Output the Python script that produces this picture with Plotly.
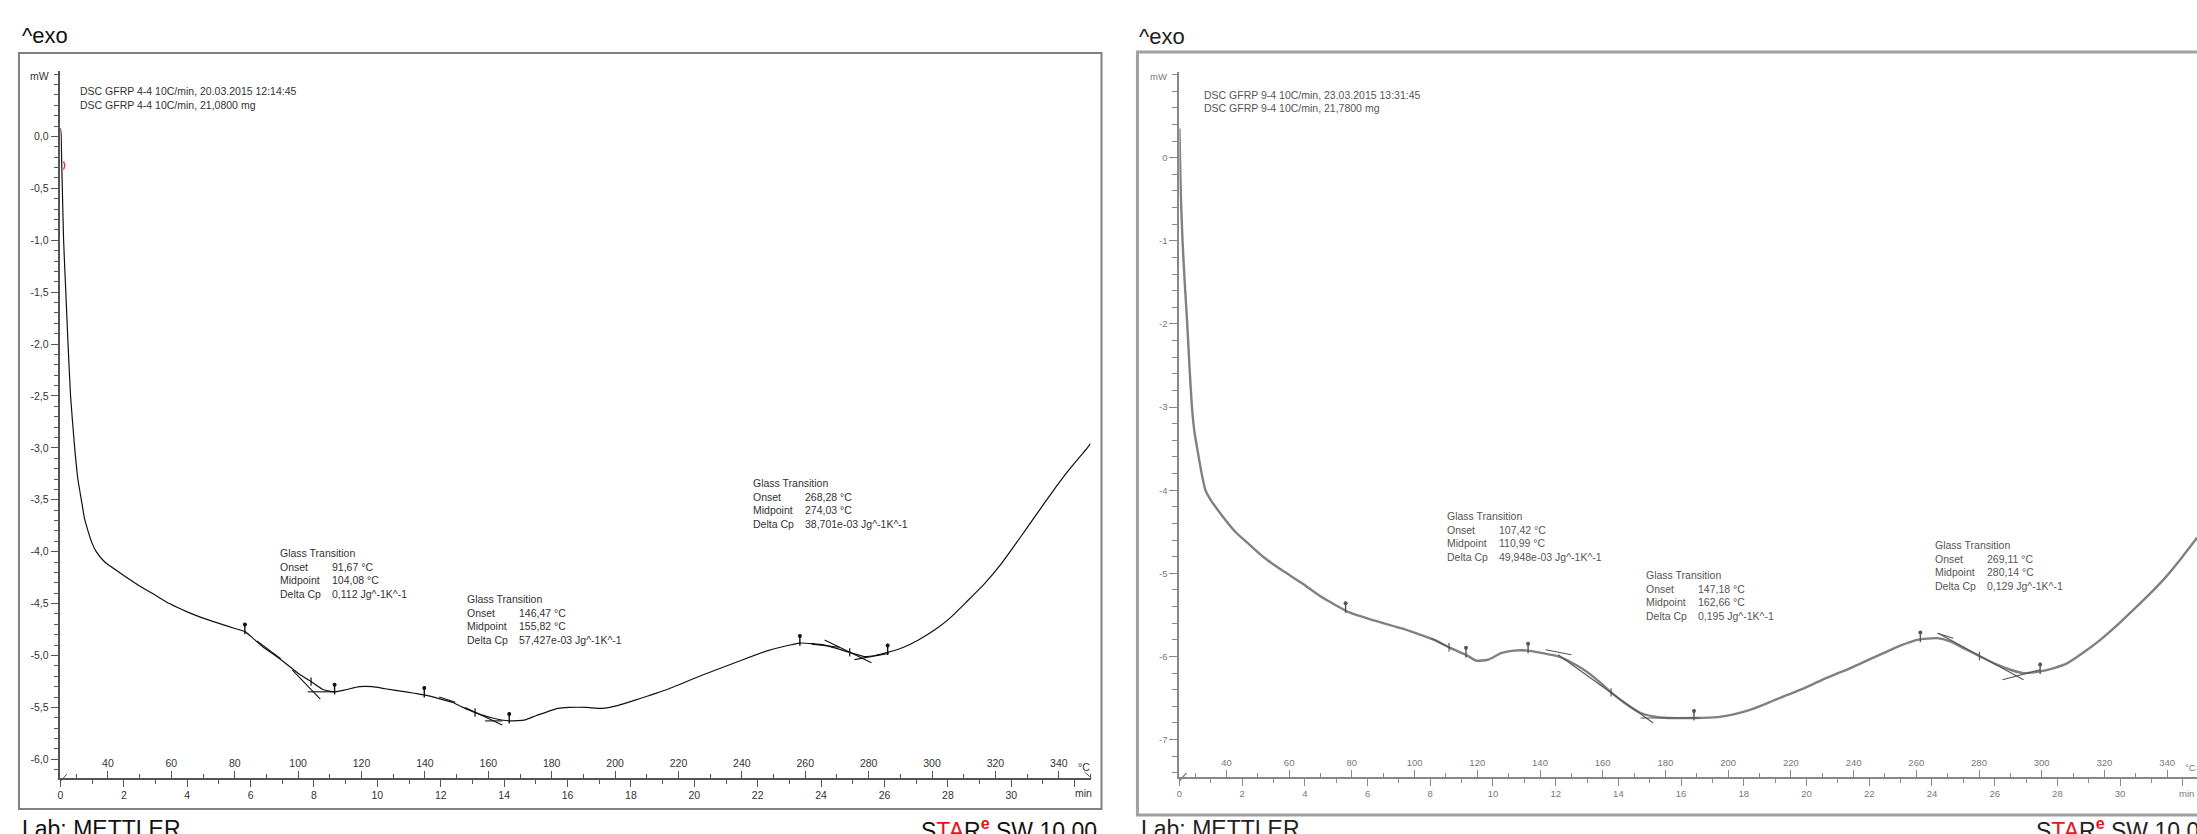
import numpy as np
import plotly.graph_objects as go

W, H = 2197, 834
FONT = "Liberation Sans"


def px(x):
    return x / W


def py(y):
    return 1 - y / H


# ---------------- data ----------------
T_START, HEAT_RATE = 25.0, 10.0  # degC at t=0, degC per min

t_left = [0.00, 0.02, 0.04, 0.06, 0.10, 0.17, 0.24, 0.32, 0.45, 0.55, 0.66, 0.76, 0.87, 1.00,
          1.13, 1.40, 1.86, 2.50, 3.00, 3.44, 4.00, 4.50, 5.00, 5.50, 5.82, 6.06, 6.40, 6.69,
          7.00, 7.50, 7.95, 8.30, 8.65, 9.00, 9.43, 9.85, 10.25, 10.90, 11.48, 12.00, 12.36,
          12.70, 13.09, 13.60, 14.16, 14.66, 15.00, 15.29, 15.70, 16.05, 16.60, 17.09, 17.60,
          18.13, 19.20, 20.24, 21.28, 22.35, 23.33, 24.11, 24.90, 25.37, 25.70, 26.10, 26.60,
          27.07, 27.60, 28.10, 28.60, 29.15, 29.70, 30.22, 30.75, 31.26, 31.80, 32.40, 32.50]
mw_left = [0.08, 0.02, -0.25, -0.50, -1.00, -1.50, -2.00, -2.50, -3.00, -3.30, -3.50, -3.68,
           -3.80, -3.92, -4.00, -4.10, -4.20, -4.33, -4.42, -4.50, -4.58, -4.64, -4.69, -4.74,
           -4.77, -4.83, -4.92, -4.98, -5.05, -5.17, -5.26, -5.33, -5.35, -5.33, -5.30, -5.30,
           -5.32, -5.35, -5.38, -5.42, -5.45, -5.50, -5.55, -5.60, -5.63, -5.62, -5.58, -5.55,
           -5.51, -5.50, -5.50, -5.51, -5.48, -5.43, -5.32, -5.19, -5.07, -4.95, -4.88, -4.90,
           -4.97, -5.01, -5.00, -4.97, -4.92, -4.85, -4.75, -4.63, -4.48, -4.31, -4.11, -3.89,
           -3.66, -3.44, -3.22, -3.00, -2.96]

t_right = [0.00, 0.015, 0.03, 0.05, 0.10, 0.17, 0.25, 0.32, 0.40, 0.48, 0.57, 0.70, 0.83, 1.00,
           1.15, 1.45, 1.78, 2.19, 2.70, 3.30, 3.91, 4.51, 5.42, 6.23, 7.07, 7.54, 8.13, 8.65,
           9.14, 9.46, 9.84, 10.26, 10.67, 11.12, 11.58, 12.08, 12.49, 12.90, 13.35, 13.76,
           14.20, 14.71, 15.11, 15.58, 16.41, 17.16, 17.64, 18.22, 18.95, 19.81, 20.57, 21.40,
           22.45, 22.99, 23.53, 24.17, 24.58, 25.06, 25.54, 26.02, 26.50, 26.92, 27.45, 27.89,
           28.32, 28.84, 29.37, 29.89, 30.42, 30.94, 31.47, 31.97, 32.46]
mw_right = [0.35, 0.10, -0.20, -0.50, -1.00, -1.50, -2.00, -2.50, -3.00, -3.30, -3.50, -3.78,
            -4.00, -4.12, -4.20, -4.35, -4.50, -4.64, -4.81, -4.97, -5.12, -5.28, -5.47, -5.57,
            -5.66, -5.72, -5.80, -5.90, -5.98, -6.05, -6.04, -5.96, -5.93, -5.93, -5.96, -6.00,
            -6.07, -6.16, -6.29, -6.43, -6.56, -6.68, -6.72, -6.74, -6.74, -6.73, -6.70, -6.64,
            -6.53, -6.40, -6.27, -6.14, -5.96, -5.87, -5.80, -5.78, -5.82, -5.91, -6.00, -6.09,
            -6.16, -6.20, -6.18, -6.14, -6.08, -5.95, -5.80, -5.63, -5.44, -5.25, -5.04, -4.81,
            -4.57]

# evaluation tangents (t0, mW0, t1, mW1)
tangents_left = [(6.20, -4.86, 6.95, -5.03), (7.32, -5.14, 8.20, -5.42), (7.80, -5.35, 8.65, -5.35),
                 (11.95, -5.40, 12.46, -5.45), (12.77, -5.50, 13.94, -5.67), (13.40, -5.63, 13.94, -5.63),
                 (23.70, -4.89, 24.58, -4.92), (24.11, -4.85, 25.59, -5.07), (25.05, -5.04, 26.13, -4.98)]
tangents_right = [(8.03, -5.78, 8.66, -5.90),
                  (11.68, -5.92, 12.50, -5.98), (12.08, -5.98, 15.11, -6.80), (14.71, -6.74, 16.60, -6.74),
                  (24.17, -5.72, 24.68, -5.78), (24.20, -5.72, 26.92, -6.28), (26.25, -6.28, 27.45, -6.16)]

# evaluation limits (pins) in min
pins_left = [5.82, 8.65, 11.48, 14.16, 23.33, 26.10]
pins_right = [5.30, 9.14, 11.12, 16.41, 23.63, 27.45]

# glass transition results: onset, midpoint (degC), delta cp
tg_left = [("91,67", 91.67, "104,08", 104.08, "0,112 Jg^-1K^-1"),
           ("146,47", 146.47, "155,82", 155.82, "57,427e-03 Jg^-1K^-1"),
           ("268,28", 268.28, "274,03", 274.03, "38,701e-03 Jg^-1K^-1")]
tg_right = [("107,42", 107.42, "110,99", 110.99, "49,948e-03 Jg^-1K^-1"),
            ("147,18", 147.18, "162,66", 162.66, "0,195 Jg^-1K^-1"),
            ("269,11", 269.11, "280,14", 280.14, "0,129 Jg^-1K^-1")]

header_left = ["DSC GFRP 4-4 10C/min, 20.03.2015 12:14:45", "DSC GFRP 4-4 10C/min, 21,0800 mg"]
header_right = ["DSC GFRP 9-4 10C/min, 23.03.2015 13:31:45", "DSC GFRP 9-4 10C/min, 21,7800 mg"]

yticks_left = [0.0, -0.5, -1.0, -1.5, -2.0, -2.5, -3.0, -3.5, -4.0, -4.5, -5.0, -5.5, -6.0]
yticks_right = [0, -1, -2, -3, -4, -5, -6, -7]
min_ticks = list(range(0, 33, 2))
degc_ticks = list(range(40, 341, 20))

# ---------------- layout geometry (pixels) ----------------
L = dict(x0=57.5, x1=1089, ytop=70.5, ybot=778, tmax=32.5, yr=(-6.18, 0.635))
R = dict(x0=1178, x1=W, ytop=72, ybot=777, yr=(-7.45, 1.03))
R["tmax"] = (R["x1"] - R["x0"]) / 31.4

pxmw_L = (L["ybot"] - L["ytop"]) / (L["yr"][1] - L["yr"][0])
pxmw_R = (R["ybot"] - R["ytop"]) / (R["yr"][1] - R["yr"][0])

fig = go.Figure()


def seg_xy(segs):
    xs, ys = [], []
    for a, b, c, d in segs:
        xs += [a, c, None]
        ys += [b, d, None]
    return xs, ys


def add_panel(tc, yc, tans, pins, tgs, xa, ya, lcolor, lwidth, mcolor, pxmw):
    fig.add_trace(go.Scatter(x=tc, y=yc, mode="lines", xaxis=xa, yaxis=ya,
                             line=dict(color=lcolor, width=lwidth, shape="spline", smoothing=0.5),
                             hoverinfo="skip", showlegend=False))
    sx, sy = seg_xy(tans)
    fig.add_trace(go.Scatter(x=sx, y=sy, mode="lines", xaxis=xa, yaxis=ya,
                             line=dict(color=mcolor, width=1.1), hoverinfo="skip", showlegend=False))
    yv = np.interp(pins, tc, yc)
    fig.add_trace(go.Scatter(x=pins, y=yv + 3 / pxmw, mode="markers", xaxis=xa, yaxis=ya,
                             marker=dict(symbol="line-ns", size=8, line=dict(width=1.4, color=mcolor)),
                             hoverinfo="skip", showlegend=False))
    fig.add_trace(go.Scatter(x=pins, y=yv + 7 / pxmw, mode="markers", xaxis=xa, yaxis=ya,
                             marker=dict(symbol="circle", size=4, color=mcolor),
                             hoverinfo="skip", showlegend=False))
    tmid = [(g[3] - T_START) / HEAT_RATE for g in tgs]
    fig.add_trace(go.Scatter(x=tmid, y=np.interp(tmid, tc, yc), mode="markers", xaxis=xa, yaxis=ya,
                             marker=dict(symbol="line-ns", size=6, line=dict(width=1.2, color=mcolor)),
                             hoverinfo="skip", showlegend=False))


add_panel(t_left, mw_left, tangents_left, pins_left, tg_left, "x", "y", "#111111", 1.2, "#111111", pxmw_L)
add_panel(t_right, mw_right, tangents_right, pins_right, tg_right, "x2", "y2", "#808080", 2.4, "#555555", pxmw_R)

# red start marks (left)
fig.add_trace(go.Scatter(x=[-0.05, -0.09, -0.05, None, 0.10, 0.14, 0.10],
                         y=[-0.13, -0.17, -0.21, None, -0.24, -0.28, -0.32],
                         mode="lines", xaxis="x", yaxis="y", cliponaxis=False,
                         line=dict(color="#e02020", width=1.2), hoverinfo="skip", showlegend=False))
# dummy traces for the degC axes
fig.add_trace(go.Scatter(x=[100], y=[None], xaxis="x3", yaxis="y", showlegend=False, hoverinfo="skip"))
fig.add_trace(go.Scatter(x=[100], y=[None], xaxis="x4", yaxis="y2", showlegend=False, hoverinfo="skip"))


def fmt_y(v, dec):
    s = f"{v:.{dec}f}".replace(".", ",")
    return s


def xaxis_min(P, tcol, lcol, fs, lw):
    return dict(domain=[px(P["x0"]), px(P["x1"])], range=[0, P["tmax"]], showline=True,
                linecolor=lcol, linewidth=lw, ticks="outside", ticklen=7, tickwidth=1, tickcolor=lcol,
                tickmode="array", tickvals=min_ticks, ticktext=[str(v) if v <= 30 else " " for v in min_ticks],
                minor=dict(ticks="outside", ticklen=4, tickcolor=lcol, tickmode="linear", tick0=0, dtick=1),
                showgrid=False, zeroline=False, tickfont=dict(family=FONT, size=fs, color=tcol))


def xaxis_degc(P, base, pos, tcol, lcol, fs):
    return dict(domain=[px(P["x0"]), px(P["x1"])], overlaying=base, side="top", anchor="free",
                position=pos, range=[T_START, T_START + HEAT_RATE * P["tmax"]], showline=False,
                ticks="outside", ticklen=7, tickwidth=1, tickcolor=lcol, tickmode="array",
                tickvals=degc_ticks, ticktext=[str(v) for v in degc_ticks],
                minor=dict(ticks="outside", ticklen=4, tickcolor=lcol, tickmode="linear", tick0=0, dtick=10),
                showgrid=False, zeroline=False, tickfont=dict(family=FONT, size=fs, color=tcol))


def yaxis_mw(P, xa, ticks, dec, minor_dt, tcol, lcol, fs, lw):
    return dict(domain=[py(P["ybot"]), py(P["ytop"])], range=list(P["yr"]), anchor=xa, showline=True,
                linecolor=lcol, linewidth=lw, ticks="outside", ticklen=8, tickwidth=1, tickcolor=lcol,
                tickmode="array", tickvals=ticks, ticktext=[fmt_y(v, dec) for v in ticks],
                minor=dict(ticks="outside", ticklen=5, tickcolor=lcol, tickmode="linear", tick0=0, dtick=minor_dt),
                showgrid=False, zeroline=False, tickfont=dict(family=FONT, size=fs, color=tcol))


annotations = []


def txt(x, y, text, size=10.5, color="#333333", xanchor="left", family=FONT):
    annotations.append(dict(x=px(x), y=py(y), xref="paper", yref="paper", text=text, showarrow=False,
                            xanchor=xanchor, yanchor="middle", align="left",
                            font=dict(family=family, size=size, color=color)))


LS = 13.6


def tg_block(x, y, g, color):
    labels = ["Glass Transition", "Onset", "Midpoint", "Delta Cp"]
    vals = [None, g[0] + " °C", g[2] + " °C", g[4]]
    for i, lab in enumerate(labels):
        txt(x, y + i * LS, lab, color=color)
        if vals[i]:
            txt(x + 52, y + i * LS, vals[i], color=color)


txt(17, 36, "^exo", size=22, color="#111111")
txt(1136, 37, "^exo", size=22, color="#222222")
for i, h in enumerate(header_left):
    txt(75, 91 + i * 14, h)
for i, h in enumerate(header_right):
    txt(1201, 95 + i * 13.3, h, color="#555555")
for (x, y), g in zip([(275, 553), (463, 599), (749, 483)], tg_left):
    tg_block(x, y, g, "#333333")
for (x, y), g in zip([(1444, 516), (1643, 575), (1933, 545)], tg_right):
    tg_block(x, y, g, "#555555")

txt(48, 76, "mW", xanchor="right")
txt(1168, 77, "mW", size=9.5, color="#777777", xanchor="right")
txt(1082, 767, "°C", xanchor="center")
txt(1082, 793, "min", xanchor="center")
txt(2190, 767, "°C", size=9.5, color="#777777", xanchor="center")
txt(2186, 793, "min", size=9.5, color="#777777", xanchor="center")

txt(17, 829, "Lab: METTLER", size=23, color="#111111")
txt(1138, 829, "Lab: METTLER", size=23, color="#222222")
star = "S<span style='color:#e8141b'>TA</span>R<sup><b style='color:#e8141b'>e</b></sup> SW 10.00"
txt(1097, 829, star, size=23, color="#111111", xanchor="right")
txt(2034, 829, star, size=23, color="#222222")

shapes = [
    dict(type="rect", xref="paper", yref="paper", x0=px(16), x1=px(1100), y0=py(809), y1=py(53),
         line=dict(color="#808080", width=2)),
    dict(type="rect", xref="paper", yref="paper", x0=px(1136), x1=px(2230), y0=py(815), y1=py(52),
         line=dict(color="#a0a0a0", width=3)),
    dict(type="line", xref="paper", yref="paper", x0=px(57), y0=py(782), x1=px(64), y1=py(774),
         line=dict(color="#555555", width=1)),
    dict(type="line", xref="paper", yref="paper", x0=px(1083), y0=py(772), x1=px(1090), y1=py(778),
         line=dict(color="#555555", width=1)),
    dict(type="line", xref="paper", yref="paper", x0=px(1178), y0=py(781), x1=px(1185), y1=py(773),
         line=dict(color="#888888", width=1.5)),
]

fig.update_layout(
    width=W, height=H, margin=dict(l=0, r=0, t=0, b=0),
    paper_bgcolor="white", plot_bgcolor="white", showlegend=False,
    xaxis=xaxis_min(L, "#333333", "#555555", 10.5, 1.5) | dict(anchor="y"),
    yaxis=yaxis_mw(L, "x", yticks_left, 1, 0.1, "#333333", "#555555", 10.5, 1.5),
    xaxis2=xaxis_min(R, "#777777", "#888888", 9.5, 2) | dict(anchor="y2"),
    yaxis2=yaxis_mw(R, "x2", yticks_right, 0, 0.2, "#777777", "#888888", 9.5, 2),
    xaxis3=xaxis_degc(L, "x", py(L["ybot"]), "#333333", "#555555", 10.5),
    xaxis4=xaxis_degc(R, "x2", py(R["ybot"]), "#777777", "#888888", 9.5),
    annotations=annotations, shapes=shapes,
)

fig.write_html("out.html")
